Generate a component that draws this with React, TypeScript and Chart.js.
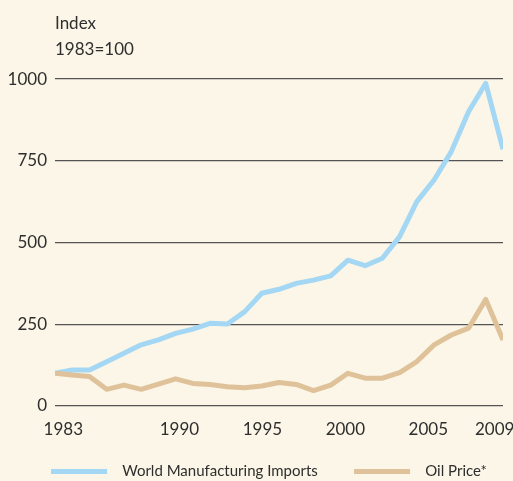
import { useEffect, useRef } from "react";
import { Chart, registerables } from "chart.js";

Chart.register(...registerables);

const years = [1983, 1984, 1985, 1986, 1987, 1988, 1989, 1990, 1991, 1992, 1993, 1994, 1995, 1996, 1997, 1998, 1999, 2000, 2001, 2002, 2003, 2004, 2005, 2006, 2007, 2008, 2009];
const manufacturingImports = [100, 110, 110, 135, 161, 187, 202, 222, 235, 253, 251, 288, 345, 357, 375, 385, 398, 446, 429, 452, 518, 625, 691, 778, 900, 987, 785];
const oilPrice = [100, 95, 90, 51, 64, 51, 67, 83, 69, 66, 59, 56, 61, 72, 66, 47, 64, 100, 85, 85, 102, 136, 187, 217, 238, 326, 202];
const xTicks = [1983, 1990, 1995, 2000, 2005, 2009];
const yTicks = [0, 250, 500, 750, 1000];
const titleLines = ["Index", "1983=100"];
const seriesNames = ["World Manufacturing Imports", "Oil Price*"];

const BG = "#FBF6E7";
const BLUE = "#A4D7F4";
const TAN = "#DFC299";
const TEXT = "#2E2E2E";
const FONT = "Lato, 'Open Sans', sans-serif";

export default function App() {
  const ref = useRef<HTMLCanvasElement | null>(null);

  useEffect(() => {
    const canvas = ref.current;
    if (!canvas) return;
    const colors = [BLUE, TAN];

    // legend geometry
    const PL = 6;
    const LEG_FONT = 15;
    const BOX_W = 56;
    const START_X = 51;
    const ITEM_STEP = 303;
    const P_MAX = 28;
    const m = document.createElement("canvas").getContext("2d")!;
    m.font = `${LEG_FONT}px ${FONT}`;
    const base = BOX_W + LEG_FONT / 2;
    let t1 = "  " + seriesNames[0];
    while (base + m.measureText(t1).width < ITEM_STEP - P_MAX) t1 += " ";
    const item1 = base + m.measureText(t1).width;
    const p = ITEM_STEP - item1;
    const t2 = "  " + seriesNames[1];
    const item2 = base + m.measureText(t2).width;
    const lw = item1 + item2 + 2 * p;
    const R = Math.max(530, Math.round(2 * START_X - PL - p + lw));
    const W = R;
    const H = 489;
    const legendTop = H - (LEG_FONT + p + 10);
    const xAxisH = legendTop - 406;
    canvas.width = W;
    canvas.height = H;
    canvas.style.width = W + "px";
    canvas.style.height = H + "px";
    const legendTexts = [t1, t2];

    const chart = new Chart(canvas, {
      type: "line",
      data: {
        datasets: [
          {
            label: seriesNames[0],
            data: years.map((y, i) => ({ x: y, y: manufacturingImports[i] })),
            borderColor: BLUE,
            backgroundColor: BLUE,
            borderWidth: 5,
            pointRadius: 0,
            tension: 0,
            borderJoinStyle: "round",
            order: 1,
          },
          {
            label: seriesNames[1],
            data: years.map((y, i) => ({ x: y, y: oilPrice[i] })),
            borderColor: TAN,
            backgroundColor: TAN,
            borderWidth: 5,
            pointRadius: 0,
            tension: 0,
            borderJoinStyle: "round",
            order: 0,
          },
        ],
      },
      options: {
        animation: false,
        responsive: false,
        maintainAspectRatio: false,
        layout: { padding: { left: PL, right: 0, top: 0, bottom: 0 } },
        scales: {
          x: {
            type: "linear",
            min: 1983,
            max: 2009,
            display: false,
          },
          xLabels: {
            type: "linear",
            axis: "x",
            position: "bottom",
            min: 1982.5,
            max: 2009.5,
            afterBuildTicks: (scale: any) => {
              scale.ticks = xTicks.map((v) => ({ value: v }));
            },
            afterFit: (scale: any) => {
              scale.height = xAxisH;
            },
            grid: { display: false, drawTicks: false },
            border: { display: false },
            ticks: {
              padding: 13,
              color: TEXT,
              font: { family: FONT, size: 17 },
              maxRotation: 0,
              autoSkip: false,
              callback: (v: any) => String(v),
            },
          },
          y: {
            min: 0,
            max: 1000,
            afterBuildTicks: (scale: any) => {
              scale.ticks = yTicks.map((v) => ({ value: v }));
            },
            afterFit: (scale: any) => {
              scale.width = 55 - PL;
            },
            grid: { color: "#555555", lineWidth: 1.3, drawTicks: false },
            border: { display: false },
            ticks: {
              padding: 8,
              color: TEXT,
              font: { family: FONT, size: 17 },
              callback: (v: any) => String(v),
            },
          },
          y2: {
            type: "linear",
            position: "right",
            display: true,
            min: 0,
            max: 1000,
            afterFit: (scale: any) => {
              scale.width = W - 503;
            },
            grid: { display: false, drawTicks: false },
            border: { display: false },
            ticks: { display: false },
          },
        },
        plugins: {
          title: {
            display: true,
            text: titleLines,
            align: "start",
            fullSize: false,
            color: TEXT,
            font: { family: FONT, size: 17, weight: "normal", lineHeight: 1.53 },
            padding: { top: 11, bottom: 16 },
          },
          legend: {
            display: true,
            position: "bottom",
            labels: {
              boxWidth: BOX_W,
              boxHeight: 5,
              padding: p,
              color: TEXT,
              font: { family: FONT, size: LEG_FONT },
              generateLabels: () =>
                seriesNames.map((_, i) => ({
                  text: legendTexts[i],
                  fillStyle: colors[i],
                  strokeStyle: colors[i],
                  lineWidth: 0,
                  hidden: false,
                  datasetIndex: i,
                  fontColor: TEXT,
                })),
            },
          },
          tooltip: { enabled: false },
        },
      },
    });
    return () => chart.destroy();
  }, []);

  return (
    <div
      style={{
        position: "absolute",
        left: 0,
        top: 0,
        width: 513,
        height: 481,
        overflow: "hidden",
        background: BG,
      }}
    >
      <canvas ref={ref} width={530} height={489} style={{ display: "block", width: 530, height: 489 }} />
    </div>
  );
}
